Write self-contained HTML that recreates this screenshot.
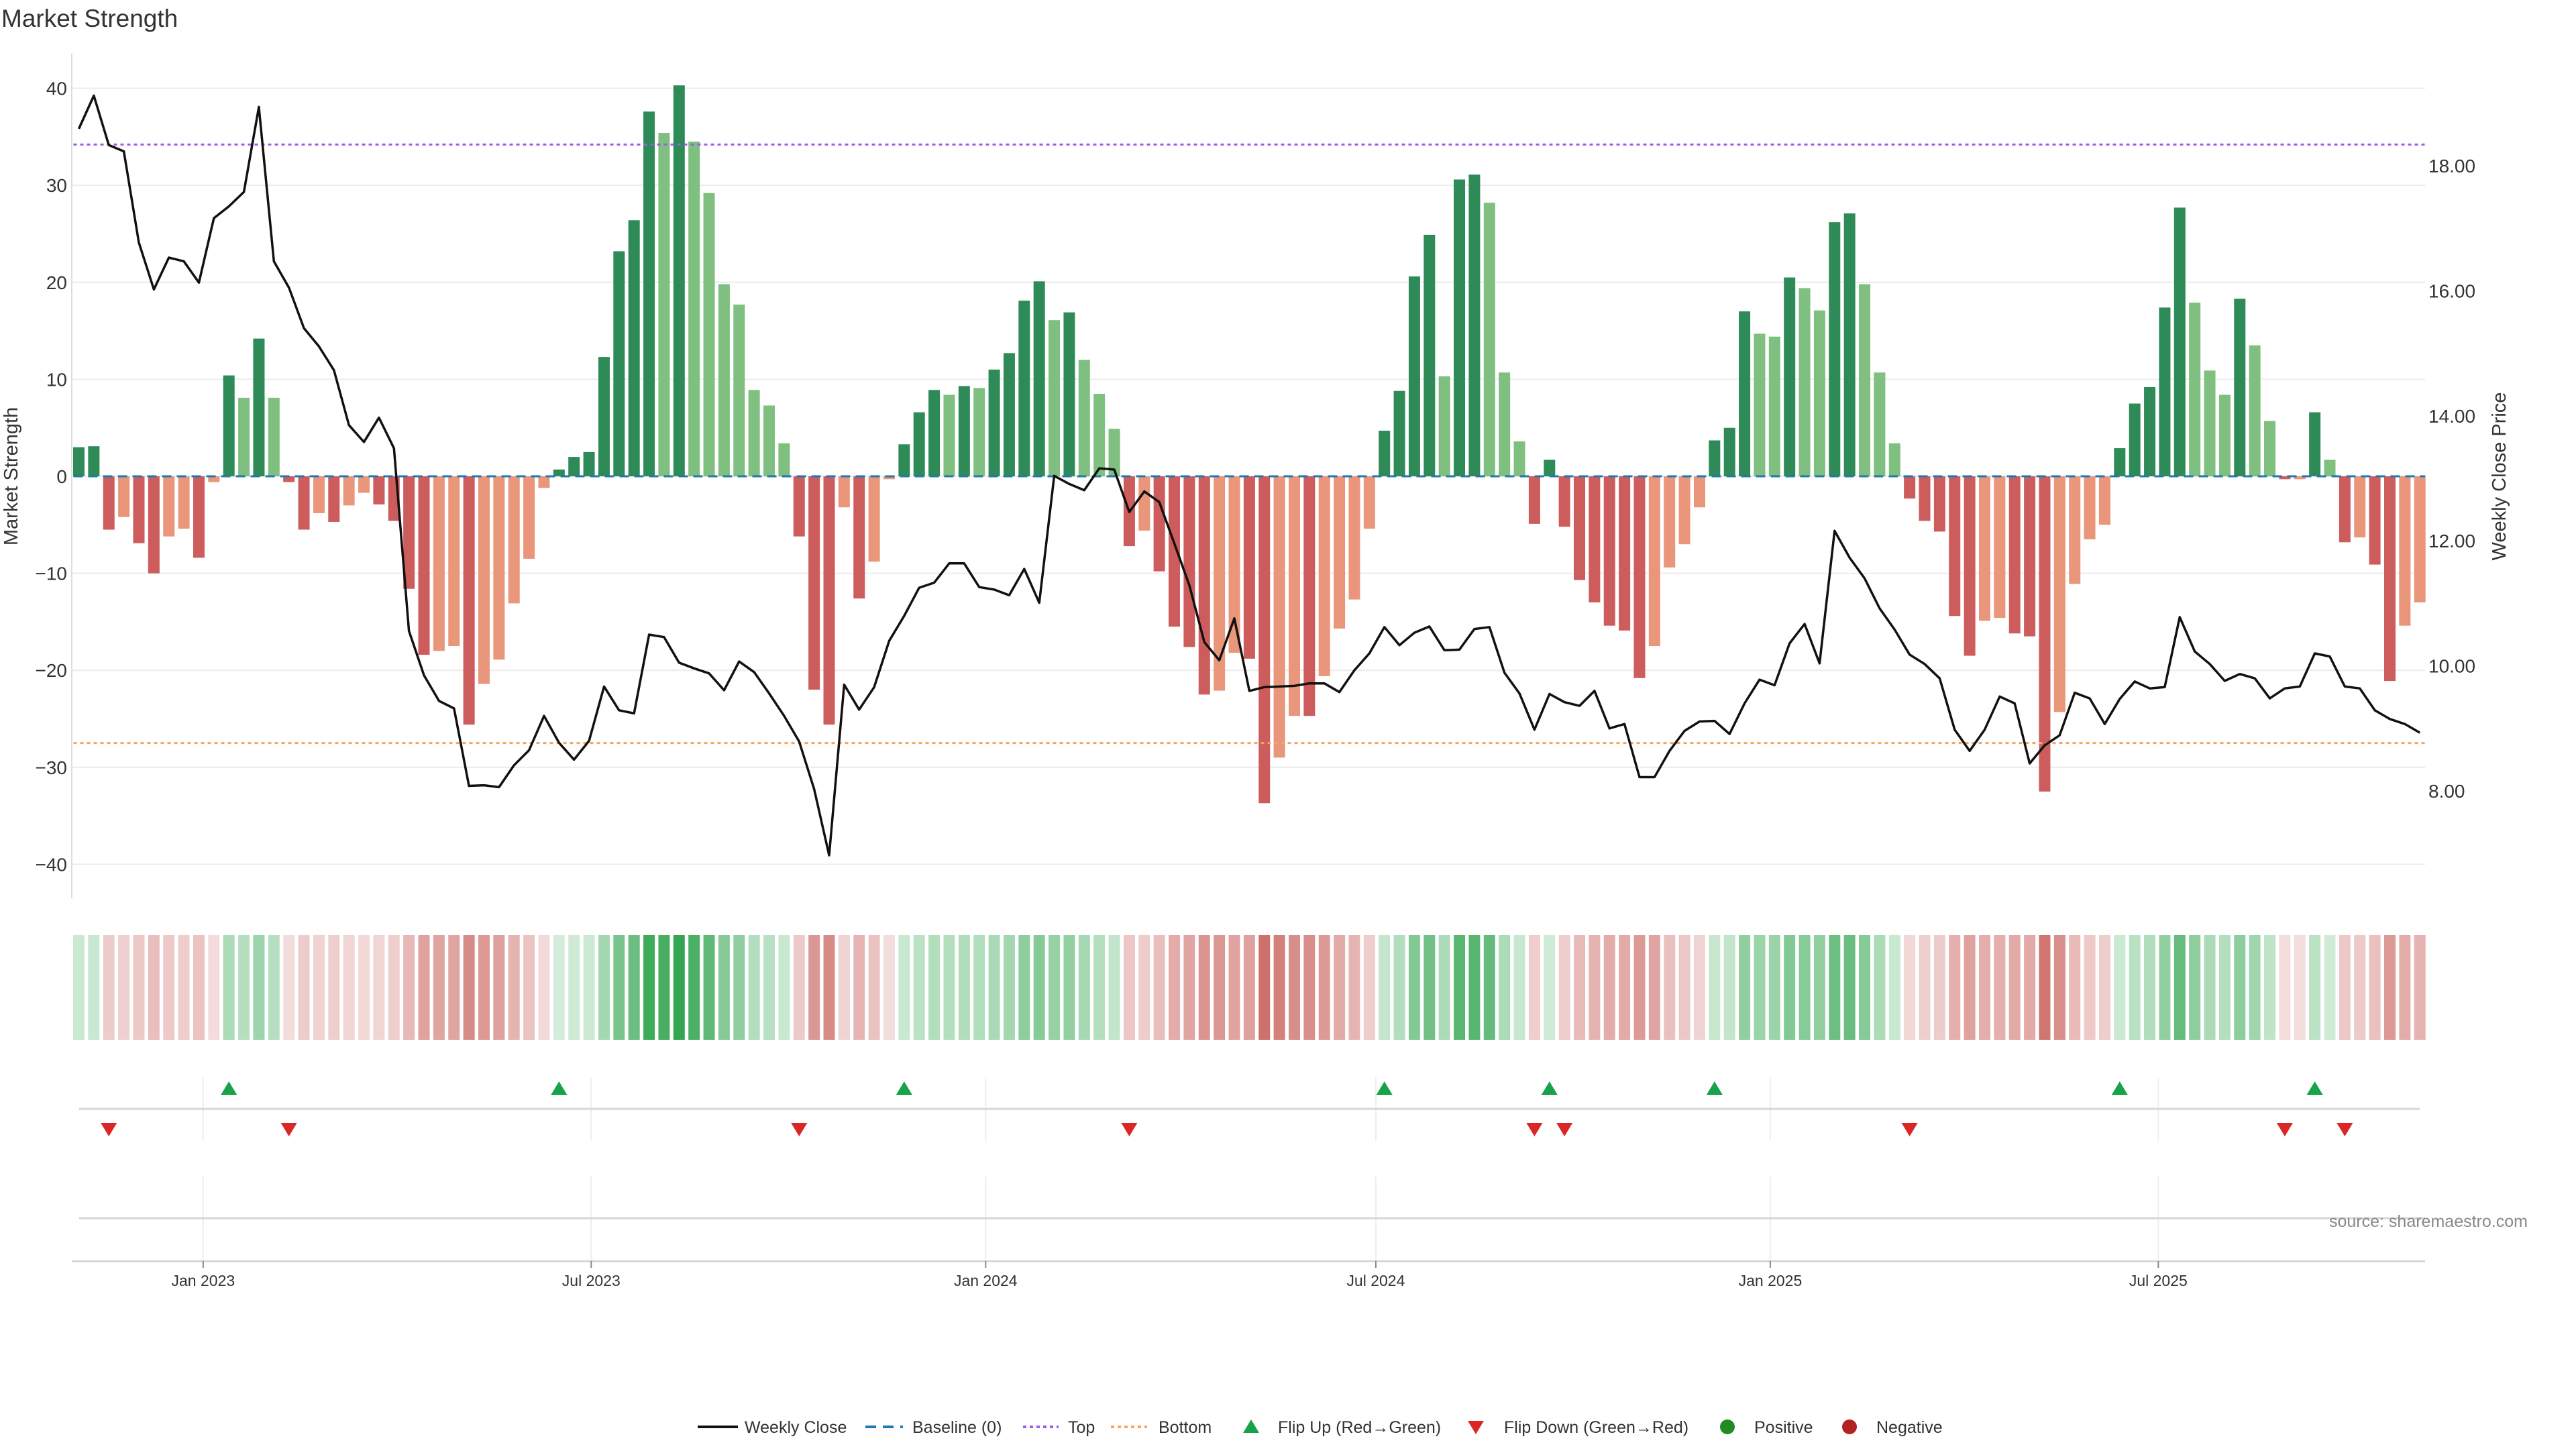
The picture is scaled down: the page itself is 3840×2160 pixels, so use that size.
<!DOCTYPE html>
<html><head><meta charset="utf-8">
<style>
html,body{margin:0;padding:0;background:#fff;}
svg{display:block;font-family:"Liberation Sans","DejaVu Sans",sans-serif;}
</style></head>
<body>
<svg id="chart" width="3840" height="2160" viewBox="0 0 3840 2160" xmlns="http://www.w3.org/2000/svg">
<rect width="3840" height="2160" fill="#fff"/>
<text x="2" y="40" font-size="37" fill="#333">Market Strength</text>
<text transform="translate(26,710) rotate(-90)" text-anchor="middle" font-size="29" fill="#333">Market Strength</text>
<text transform="translate(3735,710) rotate(-90)" text-anchor="middle" font-size="29" fill="#333">Weekly Close Price</text>
<g id="grid"></g>
<g id="bars"></g>
<g id="refs"></g>
<g id="line"></g>
<g id="heat"></g>
<g id="marks"></g>
<g id="xaxis"></g>
<text x="3472" y="1829" font-size="25" fill="#888">source: sharemaestro.com</text>
<g id="legend"></g>
</svg>
<script>
const strength = [3.0,3.1,-5.5,-4.2,-6.9,-10.0,-6.2,-5.4,-8.4,-0.6,
10.4,8.1,14.2,8.1,-0.6,-5.5,-3.8,-4.7,-3.0,-1.7,
-2.9,-4.6,-11.6,-18.4,-18.0,-17.5,-25.6,-21.4,-18.9,-13.1,
-8.5,-1.2,0.7,2.0,2.5,12.3,23.2,26.4,37.6,35.4,
40.3,34.5,29.2,19.8,17.7,8.9,7.3,3.4,-6.2,-22.0,
-25.6,-3.2,-12.6,-8.8,-0.3,3.3,6.6,8.9,8.4,9.3,
9.1,11.0,12.7,18.1,20.1,16.1,16.9,12.0,8.5,4.9,
-7.2,-5.6,-9.8,-15.5,-17.6,-22.5,-22.1,-18.2,-18.8,-33.7,
-29.0,-24.7,-24.7,-20.6,-15.7,-12.7,-5.4,4.7,8.8,20.6,
24.9,10.3,30.6,31.1,28.2,10.7,3.6,-4.9,1.7,-5.2,
-10.7,-13.0,-15.4,-15.9,-20.8,-17.5,-9.4,-7.0,-3.2,3.7,
5.0,17.0,14.7,14.4,20.5,19.4,17.1,26.2,27.1,19.8,
10.7,3.4,-2.3,-4.6,-5.7,-14.4,-18.5,-14.9,-14.6,-16.2,
-16.5,-32.5,-24.3,-11.1,-6.5,-5.0,2.9,7.5,9.2,17.4,
27.7,17.9,10.9,8.4,18.3,13.5,5.7,-0.3,-0.3,6.6,
1.7,-6.8,-6.3,-9.1,-21.1,-15.4,-13.0];
// 1 = strong shade, 0 = faded shade
const shade = [1,1,1,0,1,1,0,0,1,0,
1,0,1,0,1,1,0,1,0,0,
1,1,1,1,0,0,1,0,0,0,
0,0,1,1,1,1,1,1,1,0,
1,0,0,0,0,0,0,0,1,1,
1,0,1,0,0,1,1,1,0,1,
0,1,1,1,1,0,1,0,0,0,
1,0,1,1,1,1,0,0,1,1,
0,0,1,0,0,0,0,1,1,1,
1,0,1,1,0,0,0,1,1,1,
1,1,1,1,1,0,0,0,0,1,
1,1,0,0,1,0,0,1,1,0,
0,0,1,1,1,1,1,0,0,1,
1,1,0,0,0,0,1,1,1,1,
1,0,0,0,1,0,0,1,0,1,
0,1,0,1,1,0,0];
const closes = [18.59,19.12,18.33,18.23,16.77,16.02,16.53,16.47,16.13,17.16,
17.35,17.58,18.94,16.47,16.05,15.40,15.11,14.73,13.85,13.58,
13.97,13.48,10.56,9.85,9.44,9.32,8.08,8.09,8.06,8.41,
8.65,9.20,8.77,8.50,8.80,9.67,9.29,9.24,10.50,10.46,
10.05,9.96,9.88,9.61,10.07,9.90,9.56,9.20,8.79,8.03,
6.97,9.70,9.30,9.66,10.40,10.80,11.25,11.33,11.64,11.64,
11.26,11.22,11.13,11.55,11.01,13.04,12.91,12.81,13.16,13.14,
12.46,12.79,12.62,11.96,11.29,10.38,10.09,10.76,9.60,9.66,
9.67,9.68,9.72,9.72,9.58,9.93,10.20,10.62,10.33,10.53,
10.63,10.25,10.26,10.59,10.62,9.89,9.56,8.98,9.55,9.42,
9.36,9.60,9.00,9.07,8.22,8.22,8.64,8.96,9.11,9.12,
8.91,9.40,9.78,9.69,10.36,10.67,10.04,12.16,11.73,11.40,
10.92,10.58,10.18,10.03,9.80,8.98,8.64,8.98,9.51,9.40,
8.44,8.73,8.89,9.57,9.48,9.07,9.47,9.75,9.64,9.66,
10.78,10.23,10.03,9.76,9.87,9.80,9.48,9.64,9.67,10.20,
10.15,9.67,9.64,9.29,9.15,9.07,8.93];
const yTicks = [40,30,20,10,0,-10,-20,-30,-40];
const y2Ticks = [18,16,14,12,10,8];
const topLevel = 34.2;
const bottomLevel = -27.5;
const xTickLabels = ["Jan 2023","Jul 2023","Jan 2024","Jul 2024","Jan 2025","Jul 2025"];
const xTickDates = ["2023-01-01","2023-07-01","2024-01-01","2024-07-01","2025-01-01","2025-07-01"];
const startDate = "2022-11-04";

const NS="http://www.w3.org/2000/svg";
function mk(parent,tag,attrs){const e=document.createElementNS(NS,tag);for(const k in attrs)e.setAttribute(k,attrs[k]);parent.appendChild(e);return e;}
const X0=117.5, PITCH=22.37, PL=107, PR=3615, PT=80, PB=1339;
const xi=i=>X0+PITCH*i;
const xd=d=>X0+((new Date(d)-new Date(startDate))/86400000)*PITCH/7;
const ys=v=>710-v*14.46;
const yc=v=>247+(18-v)*93.2;

const grid=document.getElementById('grid');
yTicks.forEach(t=>{
  const l=mk(grid,'line',{x1:PL,x2:PR,y1:ys(t),y2:ys(t),stroke:'#ececec','stroke-width':2});
  
  
  const tx=mk(grid,'text',{x:100,y:ys(t)+10,'text-anchor':'end','font-size':28,fill:'#333'});
  tx.textContent=(t<0?'\u2212'+(-t):String(t));
  
  
});
y2Ticks.forEach(t=>{
  const tx=mk(grid,'text',{x:3620,y:yc(t)+10,'font-size':28,fill:'#333'});
  tx.textContent=t.toFixed(2);
  
  
});
const ax=mk(grid,'line',{x1:PL,x2:PL,y1:PT,y2:PB,stroke:'#ddd','stroke-width':2});



const bars=document.getElementById('bars');
strength.forEach((v,i)=>{
  const pos=v>=0;
  const col=pos?(shade[i]?'#2e8b57':'#7fbf7f'):(shade[i]?'#cd5c5c':'#e9967a');
  const y=Math.min(ys(v),ys(0)), h=Math.abs(ys(v)-ys(0));
  const r=mk(bars,'rect',{x:xi(i)-8.5,y:y,width:17,height:Math.max(h,1),fill:col});
  
  
});

const refs=document.getElementById('refs');
let b=mk(refs,'line',{x1:xi(0)-8,x2:xi(strength.length-1)+8,y1:ys(0),y2:ys(0),stroke:'#1f77b4','stroke-width':3,'stroke-dasharray':'14 8'});


b=mk(refs,'line',{x1:xi(0)-8,x2:xi(strength.length-1)+8,y1:ys(topLevel),y2:ys(topLevel),stroke:'#9b5de5','stroke-width':3,'stroke-dasharray':'5 5'});


b=mk(refs,'line',{x1:xi(0)-8,x2:xi(strength.length-1)+8,y1:ys(bottomLevel),y2:ys(bottomLevel),stroke:'#f4a460','stroke-width':3,'stroke-dasharray':'5 5'});



const lineG=document.getElementById('line');
const p=mk(lineG,'polyline',{points:closes.map((c,i)=>xi(i).toFixed(1)+','+yc(c).toFixed(1)).join(' '),fill:'none',stroke:'#111','stroke-width':3.5,'stroke-linejoin':'round'});



function mix(a,b,t){return 'rgb('+a.map((x,k)=>Math.round(x+(b[k]-x)*t)).join(',')+')';}
const heat=document.getElementById('heat');
strength.forEach((v,i)=>{
  const col=v>=0?mix([214,238,220],[52,166,82],Math.min(v/40,1)):mix([244,222,222],[206,112,106],Math.min(-v/34,1));
  const r=mk(heat,'rect',{x:xi(i)-8.5,y:1394,width:17,height:156,fill:col});
  
  
});

const marks=document.getElementById('marks');
xTickDates.forEach(d=>{
  const x=xd(d);
  let g=mk(marks,'line',{x1:x,x2:x,y1:1606,y2:1700,stroke:'#eee','stroke-width':2});
  
  
  g=mk(marks,'line',{x1:x,x2:x,y1:1754,y2:1880,stroke:'#eee','stroke-width':2});
  
  
});
let hl=mk(marks,'line',{x1:118,x2:3607,y1:1653,y2:1653,stroke:'#d6d6d6','stroke-width':3});


hl=mk(marks,'line',{x1:118,x2:3615,y1:1816,y2:1816,stroke:'#d6d6d6','stroke-width':3});


for(let i=1;i<strength.length;i++){
  const prev=strength[i-1]>=0, cur=strength[i]>=0;
  if(!prev&&cur){
    const x=xi(i);
    const t=mk(marks,'polygon',{points:`${x-12},1632 ${x+12},1632 ${x},1612`,fill:'#16a34a'});
    
    
  } else if(prev&&!cur){
    const x=xi(i);
    const t=mk(marks,'polygon',{points:`${x-12},1674 ${x+12},1674 ${x},1694`,fill:'#dc2626'});
    
    
  }
}

const xa=document.getElementById('xaxis');
let al=mk(xa,'line',{x1:PL,x2:PR,y1:1880,y2:1880,stroke:'#d6d6d6','stroke-width':3});


xTickDates.forEach((d,k)=>{
  const x=xd(d);
  const tk=mk(xa,'line',{x1:x,x2:x,y1:1880,y2:1890,stroke:'#888','stroke-width':2});
  
  
  const tx=mk(xa,'text',{x:x,y:1917,'text-anchor':'middle','font-size':23,fill:'#333'});
  tx.textContent=xTickLabels[k];
  
  
});

const lg=document.getElementById('legend');
const LY=2127;
function ltext(x,s){const t=mk(lg,'text',{x:x,y:LY+9,'font-size':25,fill:'#333'});t.textContent=s;}
let e;
e=mk(lg,'line',{x1:1040,x2:1100,y1:LY,y2:LY,stroke:'#111','stroke-width':4});ltext(1110,'Weekly Close');
e=mk(lg,'line',{x1:1290,x2:1346,y1:LY,y2:LY,stroke:'#1f77b4','stroke-width':4,'stroke-dasharray':'16 10'});ltext(1360,'Baseline (0)');
e=mk(lg,'line',{x1:1525,x2:1578,y1:LY,y2:LY,stroke:'#9b5de5','stroke-width':4,'stroke-dasharray':'5 5'});ltext(1592,'Top');
e=mk(lg,'line',{x1:1656,x2:1710,y1:LY,y2:LY,stroke:'#f4a460','stroke-width':4,'stroke-dasharray':'5 5'});ltext(1727,'Bottom');
e=mk(lg,'polygon',{points:`1853,${LY+9} 1877,${LY+9} 1865,${LY-11}`,fill:'#16a34a'});ltext(1905,'Flip Up (Red\u2192Green)');
e=mk(lg,'polygon',{points:`2188,${LY-9} 2212,${LY-9} 2200,${LY+11}`,fill:'#dc2626'});ltext(2242,'Flip Down (Green\u2192Red)');
e=mk(lg,'circle',{cx:2575,cy:LY,r:11,fill:'#228b22'});ltext(2615,'Positive');
e=mk(lg,'circle',{cx:2757,cy:LY,r:11,fill:'#b22222'});ltext(2797,'Negative');
</script>
</body></html>
